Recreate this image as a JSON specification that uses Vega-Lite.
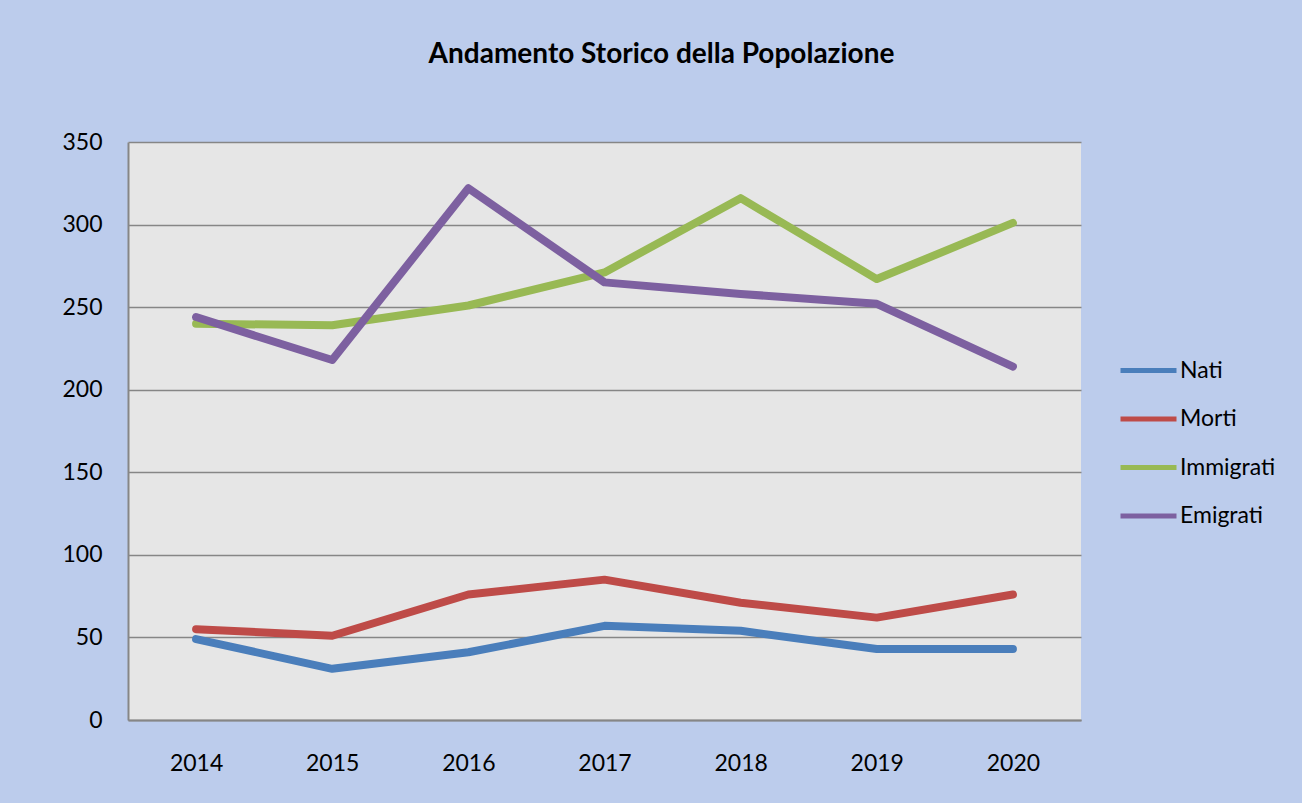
{
  "$schema": "https://vega.github.io/schema/vega-lite/v6.json",
  "width": 953,
  "height": 578,
  "autosize": "none",
  "padding": {"left": 128, "top": 142, "right": 221, "bottom": 83},
  "background": "#BCCCEC",
  "title": {
    "text": "Andamento Storico della Popolazione",
    "font": "Lato",
    "fontSize": 28,
    "fontWeight": "bold",
    "color": "#000000",
    "anchor": "middle",
    "dx": 57,
    "baseline": "alphabetic",
    "offset": 40
  },
  "data": {
    "values": [
      {"anno": "2014", "serie": "Nati", "valore": 49},
      {"anno": "2015", "serie": "Nati", "valore": 31},
      {"anno": "2016", "serie": "Nati", "valore": 41},
      {"anno": "2017", "serie": "Nati", "valore": 57},
      {"anno": "2018", "serie": "Nati", "valore": 54},
      {"anno": "2019", "serie": "Nati", "valore": 43},
      {"anno": "2020", "serie": "Nati", "valore": 43},
      {"anno": "2014", "serie": "Morti", "valore": 55},
      {"anno": "2015", "serie": "Morti", "valore": 51},
      {"anno": "2016", "serie": "Morti", "valore": 76},
      {"anno": "2017", "serie": "Morti", "valore": 85},
      {"anno": "2018", "serie": "Morti", "valore": 71},
      {"anno": "2019", "serie": "Morti", "valore": 62},
      {"anno": "2020", "serie": "Morti", "valore": 76},
      {"anno": "2014", "serie": "Immigrati", "valore": 240},
      {"anno": "2015", "serie": "Immigrati", "valore": 239},
      {"anno": "2016", "serie": "Immigrati", "valore": 251},
      {"anno": "2017", "serie": "Immigrati", "valore": 271},
      {"anno": "2018", "serie": "Immigrati", "valore": 316},
      {"anno": "2019", "serie": "Immigrati", "valore": 267},
      {"anno": "2020", "serie": "Immigrati", "valore": 301},
      {"anno": "2014", "serie": "Emigrati", "valore": 244},
      {"anno": "2015", "serie": "Emigrati", "valore": 218},
      {"anno": "2016", "serie": "Emigrati", "valore": 322},
      {"anno": "2017", "serie": "Emigrati", "valore": 265},
      {"anno": "2018", "serie": "Emigrati", "valore": 258},
      {"anno": "2019", "serie": "Emigrati", "valore": 252},
      {"anno": "2020", "serie": "Emigrati", "valore": 214}
    ]
  },
  "mark": {"type": "line", "strokeWidth": 8, "strokeCap": "round", "strokeJoin": "round"},
  "encoding": {
    "x": {
      "field": "anno",
      "type": "ordinal",
      "scale": {"type": "point", "padding": 0.5},
      "axis": {
        "title": null,
        "labelAngle": 0,
        "ticks": false,
        "grid": false,
        "domainColor": "#868686",
        "domainWidth": 2,
        "labelFont": "Lato",
        "labelFontSize": 23,
        "labelColor": "#000000",
        "labelPadding": 43,
        "labelBaseline": "middle"
      }
    },
    "y": {
      "field": "valore",
      "type": "quantitative",
      "scale": {"domain": [0, 350], "nice": false},
      "axis": {
        "title": null,
        "values": [0, 50, 100, 150, 200, 250, 300, 350],
        "ticks": false,
        "gridColor": "#868686",
        "gridWidth": 1.5,
        "gridOpacity": 1,
        "domainColor": "#868686",
        "domainWidth": 2,
        "labelFont": "Lato",
        "labelFontSize": 23,
        "labelColor": "#000000",
        "labelPadding": 26
      }
    },
    "color": {
      "field": "serie",
      "type": "nominal",
      "sort": ["Nati", "Morti", "Immigrati", "Emigrati"],
      "scale": {
        "domain": ["Nati", "Morti", "Immigrati", "Emigrati"],
        "range": ["#4A7EBB", "#BE4B48", "#98B954", "#7D60A0"]
      },
      "legend": {
        "title": null,
        "orient": "none",
        "legendX": 1018,
        "legendY": 212,
        "symbolType": "M-3,0H1",
        "symbolSize": 784,
        "symbolStrokeWidth": 5,
        "labelFont": "Lato",
        "labelFontSize": 23,
        "labelColor": "#000000",
        "labelOffset": 1,
        "rowPadding": 19.5
      }
    }
  },
  "config": {
    "view": {"fill": "#E6E6E6", "stroke": null}
  }
}
